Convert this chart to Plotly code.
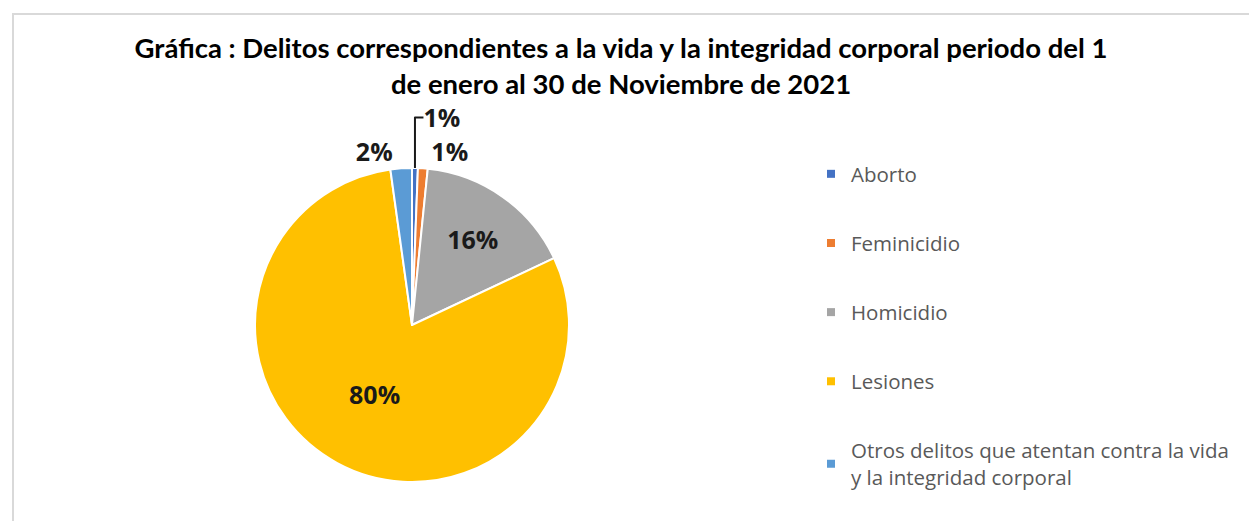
import plotly.graph_objects as go

# Data
categories = ["Aborto", "Feminicidio", "Homicidio", "Lesiones",
              "Otros delitos que atentan contra la vida<br>y la integridad corporal"]
values = [0.6, 1.0, 16.4, 79.8, 2.2]
colors = ["#4472C4", "#ED7D31", "#A5A5A5", "#FFC000", "#5B9BD5"]
text_positions = ["outside", "outside", "inside", "inside", "outside"]

title_text = ("<b>Gráfica : Delitos correspondientes a la vida y la integridad corporal periodo del 1"
              "<br>de enero al 30 de Noviembre de 2021</b>")

W, H = 1257, 521
cx, cy, r = 404, 317, 157

fig = go.Figure()
fig.add_trace(go.Pie(
    labels=categories,
    values=values,
    sort=False,
    direction="clockwise",
    rotation=0,
    marker=dict(colors=colors, line=dict(color="white", width=2)),
    textinfo="percent",
    texttemplate="<b>%{percent:.0%}</b>",
    textposition=text_positions,
    insidetextorientation="horizontal",
    textfont=dict(family="Open Sans, Arial", size=25, color="#1a1a1a"),
    showlegend=False,
    domain=dict(x=[(cx - r) / W, (cx + r) / W], y=[1 - (cy + r) / H, 1 - (cy - r) / H]),
    automargin=False,
    hoverinfo="label+percent",
))

# legend entries
for lab, col in zip(categories, colors):
    fig.add_trace(go.Scatter(
        x=[None], y=[None], mode="markers", name=lab, legendgroup=lab,
        marker=dict(symbol="square", size=8, color=col),
    ))

fig.update_layout(
    width=W, height=H,
    margin=dict(l=0, r=0, t=0, b=0),
    paper_bgcolor="white", plot_bgcolor="white",
    title=dict(text=title_text, x=0.4877, xanchor="center", y=1 - 50 / H, yanchor="top",
               font=dict(family="Lato, Arial", size=27.5, color="#000000")),
    xaxis=dict(visible=False), yaxis=dict(visible=False),
    legend=dict(x=803 / W, xanchor="left", y=1 - 146 / H, yanchor="top",
                font=dict(family="Open Sans, Arial", size=20.5, color="#595959"),
                tracegroupgap=39.5, itemwidth=30, bgcolor="rgba(0,0,0,0)",
                traceorder="grouped"),
    shapes=[
        dict(type="line", xref="paper", yref="paper", x0=4 / W, x1=1, y0=1 - 6 / H, y1=1 - 6 / H,
             line=dict(color="#D9D9D9", width=2)),
        dict(type="line", xref="paper", yref="paper", x0=5 / W, x1=5 / W, y0=0, y1=1 - 5 / H,
             line=dict(color="#D9D9D9", width=2)),
    ],
)

fig.write_html("out.html")
